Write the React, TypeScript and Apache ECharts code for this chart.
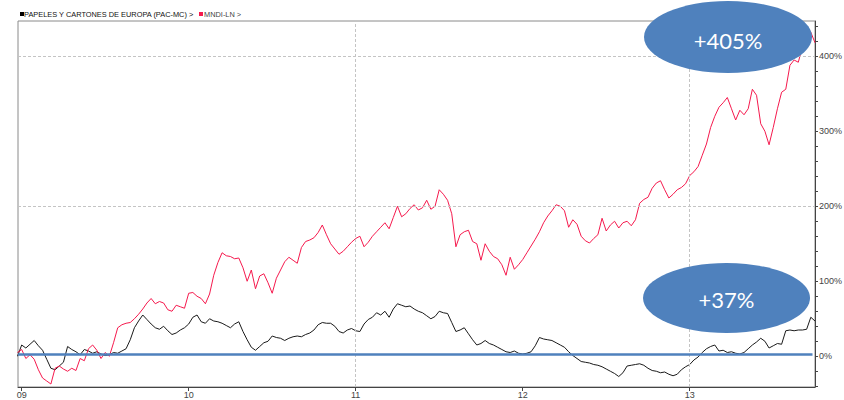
import React, { useEffect, useRef } from "react";
import * as echarts from "echarts";

// Time grid: one point every 0.025 year, starting late Dec 2008
const START_YEAR = 2008.975;
const STEP_YEAR = 0.025;

const yearTicks = [2009, 2010, 2011, 2012, 2013];
const percentLabels = [0, 100, 200, 300, 400];
const percentMinorTicks = [-40, -20, 0, 20, 40, 60, 80, 100, 120, 140, 160, 180, 200, 220, 240, 260, 280, 300, 320, 340, 360, 380, 400, 420, 440];

const seriesNames = ["PAPELES Y CARTONES DE EUROPA (PAC-MC)", "MNDI-LN"];

// PAPELES Y CARTONES DE EUROPA (PAC-MC), % change
const pacValues = [
  0, 15, 11, 16, 21, 14, 8, -4, -16, -18,
  -13, -8, 13, 9, 6, 2, 9, 7, 4, 6,
  3, 1, 2, 5, 4, 7, 10, 22, 38, 47,
  55, 49, 43, 38, 36, 40, 34, 29, 31, 35,
  38, 43, 52, 55, 46, 44, 50, 47, 46, 44,
  41, 38, 43, 46, 33, 22, 12, 8, 13, 18,
  20, 27, 25, 24, 21, 24, 26, 27, 26, 29,
  31, 35, 42, 45, 44, 44, 40, 33, 31, 35,
  37, 34, 33, 43, 49, 52, 58, 55, 60, 52,
  63, 70, 68, 66, 67, 63, 60, 58, 54, 50,
  53, 60, 58, 57, 45, 33, 35, 38, 30, 22,
  15, 17, 21, 17, 15, 12, 9, 6, 5, 7,
  4, 3, 4, 6, 14, 25, 23, 22, 21, 18,
  15, 12, 6, 1, -3, -7, -8, -9, -11, -12,
  -14, -17, -20, -23, -27, -22, -13, -12, -11, -10,
  -12, -16, -19, -20, -22, -21, -24, -26, -24, -18,
  -14, -11, -5, -1, 5, 10, 13, 15, 7, 8,
  5, 6, 4, 3, 5, 10, 15, 19, 24, 20,
  11, 14, 17, 16, 34, 35, 34, 35, 35, 36,
  52, 47
];

// MNDI-LN, % change
const mndiValues = [
  5, 9, -3, 2, -4, -18, -29, -33, -37, -16,
  -13, -17, -20, -16, -19, -3, -6, 10, 15, 8,
  -3, 5, 0, 18, 38, 42, 44, 45, 50, 56,
  63, 71, 77, 70, 73, 71, 62, 60, 68, 66,
  64, 84, 85, 80, 77, 70, 83, 108, 125, 138,
  134, 133, 130, 131, 118, 100, 115, 90, 107, 110,
  98, 84, 104, 115, 126, 132, 128, 124, 145, 153,
  155, 158, 165, 175, 162, 150, 143, 136, 140, 146,
  152, 157, 160, 146, 152, 160, 166, 172, 178, 170,
  185, 200, 186, 190, 197, 202, 195, 198, 208, 196,
  200, 222, 216, 208, 190, 146, 162, 166, 168, 153,
  150, 128, 150, 140, 133, 130, 122, 108, 132, 116,
  122, 129, 138, 147, 156, 166, 178, 187, 194, 202,
  200, 194, 172, 182, 176, 160, 154, 151, 157, 162,
  184, 167, 175, 180, 171, 178, 180, 174, 182, 204,
  209, 212, 224, 231, 234, 222, 211, 216, 222, 225,
  230, 241, 246, 253, 268, 283, 305, 320, 332, 338,
  345, 330, 315, 328, 322, 330, 356, 348, 310, 300,
  282, 305, 330, 352, 356, 388, 395, 392, 413, 440,
  432, 418
];

const baselineValue = 2.5;
const gridYearLines = [2011, 2013];
const gridPercentLines = [200, 400];

const X_MIN = 2008.978;
const X_MAX = 2013.75;
const Y_MIN = -41;
const Y_MAX = 447;

const BLUE = "#4F81BD";
const RED = "#f5194d";
const NARROW = '"Liberation Sans Narrow", "Arial Narrow", "Liberation Sans", sans-serif';

export default function App() {
  const ref = useRef<HTMLDivElement>(null);

  useEffect(() => {
    document.body.style.margin = "0";
    if (!ref.current) return;
    const chart = echarts.init(ref.current, null, { renderer: "svg" });

    const xs = pacValues.map((_, i) => +(START_YEAR + i * STEP_YEAR).toFixed(4));
    const pacData = pacValues.map((v, i) => [xs[i], v]);
    const mndiData = mndiValues.map((v, i) => [xs[i], v]);

    const option: any = {
      animation: false,
      grid: {
        left: 18,
        right: 29,
        top: 21,
        bottom: 13,
        show: true,
        borderColor: "#8a8a8a",
        borderWidth: 1,
        backgroundColor: "#fff",
        outerBoundsMode: "none",
      },
      xAxis: {
        type: "value",
        min: X_MIN,
        max: X_MAX,
        axisLine: { show: true, onZero: false, lineStyle: { color: "#444", width: 1 } },
        axisTick: {
          show: true,
          customValues: yearTicks,
          length: 4,
          lineStyle: { color: "#444" },
        },
        axisLabel: {
          customValues: yearTicks,
          formatter: (v: number) => String(Math.round(v)).slice(2),
          color: "#444",
          fontSize: 9,
          fontFamily: NARROW,
          margin: 3,
        },
        splitLine: { show: false },
      },
      yAxis: {
        type: "value",
        position: "right",
        min: Y_MIN,
        max: Y_MAX,
        axisLine: { show: true, lineStyle: { color: "#444", width: 1 } },
        axisTick: {
          show: true,
          customValues: percentMinorTicks,
          length: 3,
          lineStyle: { color: "#444" },
        },
        axisLabel: {
          customValues: percentLabels,
          formatter: (v: number) => `${v}%`,
          color: "#444",
          fontSize: 9,
          fontFamily: NARROW,
          margin: 4,
        },
        splitLine: { show: false },
      },
      series: [
        {
          type: "line",
          name: "grid",
          data: [],
          silent: true,
          z: 1,
          markLine: {
            silent: true,
            symbol: "none",
            label: { show: false },
            lineStyle: { color: "#c4c4c4", type: [3, 2], width: 1 },
            data: [
              ...gridYearLines.map((x) => ({ xAxis: x })),
              ...gridPercentLines.map((y) => ({ yAxis: y })),
            ],
          },
        },
        {
          type: "line",
          name: seriesNames[0],
          data: pacData,
          showSymbol: false,
          lineStyle: { color: "#1a1a1a", width: 1 },
          itemStyle: { color: "#1a1a1a" },
          z: 2,
        },
        {
          type: "line",
          name: seriesNames[1],
          data: mndiData,
          showSymbol: false,
          lineStyle: { color: RED, width: 1 },
          itemStyle: { color: RED },
          z: 3,
        },
        {
          type: "line",
          name: "baseline",
          data: [],
          silent: true,
          z: 5,
          markLine: {
            silent: true,
            symbol: "none",
            label: { show: false },
            lineStyle: { color: BLUE, type: "solid", width: 2.5 },
            data: [
              [
                { coord: [X_MIN, baselineValue] },
                { coord: [2013.735, baselineValue] },
              ],
            ],
          },
        },
      ],
      graphic: [
        { type: "rect", shape: { x: 20, y: 12, width: 4, height: 4 }, style: { fill: "#000" }, z: 100 },
        {
          type: "text",
          x: 24,
          y: 14,
          style: {
            text: seriesNames[0] + " >",
            fontSize: 7.4,
            fontFamily: NARROW,
            fill: "#111",
            verticalAlign: "middle",
          },
          z: 100,
        },
        { type: "rect", shape: { x: 199, y: 12, width: 4, height: 4 }, style: { fill: RED }, z: 100 },
        {
          type: "text",
          x: 204,
          y: 14,
          style: {
            text: seriesNames[1] + " >",
            fontSize: 7.4,
            fontFamily: NARROW,
            fill: "#444",
            verticalAlign: "middle",
          },
          z: 100,
        },
        {
          type: "ellipse",
          shape: { cx: 728, cy: 37, rx: 84, ry: 36 },
          style: { fill: BLUE },
          z: 100,
        },
        {
          type: "text",
          x: 728,
          y: 40,
          style: {
            text: "+405%",
            fill: "#fff",
            fontSize: 22,
            fontFamily: "Lato, 'Open Sans', sans-serif",
            align: "center",
            verticalAlign: "middle",
          },
          z: 101,
        },
        {
          type: "ellipse",
          shape: { cx: 726.5, cy: 298, rx: 83.5, ry: 35 },
          style: { fill: BLUE },
          z: 100,
        },
        {
          type: "text",
          x: 726.5,
          y: 299,
          style: {
            text: "+37%",
            fill: "#fff",
            fontSize: 22,
            fontFamily: "Lato, 'Open Sans', sans-serif",
            align: "center",
            verticalAlign: "middle",
          },
          z: 101,
        },
      ],
    };

    chart.setOption(option);
    return () => chart.dispose();
  }, []);

  return <div ref={ref} style={{ width: 844, height: 400 }} />;
}
